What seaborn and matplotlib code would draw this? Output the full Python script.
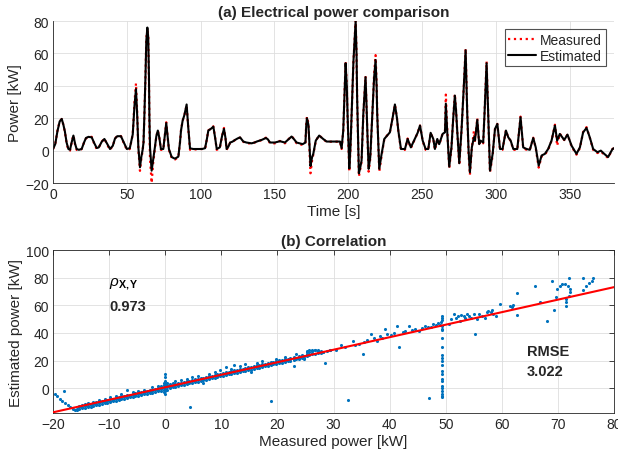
import matplotlib
matplotlib.use("Agg")
import matplotlib.pyplot as plt
import seaborn as sns

# ---------------- (a) time series ----------------
time_s = [0, 1.5, 3, 4.5, 5.9, 7, 8, 9.2, 10.4, 11.5, 12.6, 13.8, 15, 16, 17.5, 19.4, 21, 22.3, 24, 26.2,
          28, 29.6, 31, 33, 34.8, 36.5, 38.6, 40.5, 42, 43.5, 46, 48, 50, 52, 54, 55.2, 56.2, 57, 57.8, 58.9,
          59.8, 60.7, 61.3, 61.9, 62.6, 63.2, 63.9, 64.5, 65, 65.3, 65.7, 66.8, 67.8, 69, 70, 71, 72, 73.1, 74.7, 75.8,
          76.7, 77.5, 78.5, 80.4, 82.6, 84.9, 86, 86.7, 87.8, 89, 90.5, 91.6, 92.8, 95, 98, 101, 103, 104.2, 105.2, 107,
          108.6, 109.8, 110.9, 113, 114.5, 115.8, 116.8, 117.6, 118.8, 120, 121.5, 123.3, 125, 126.7, 128.9, 131, 134.5, 136.5, 138, 141.3,
          144.2, 145.5, 147, 150.3, 153.7, 157.1, 159.5, 161.6, 163.3, 165, 169.1, 171, 171.5, 172, 173, 173.6, 174.4, 175.5, 176.3, 178,
          180.3, 183, 185.3, 189.9, 194.4, 195.5, 196.6, 197.5, 198.2, 199, 199.5, 200.7, 201.5, 202.3, 203.5, 205, 205.6, 206, 207.2, 208,
          209, 210.2, 211.7, 212.3, 212.9, 213.8, 214.9, 216.3, 217.5, 218.5, 219.2, 219.6, 221, 222.6, 224.4, 226, 228.2, 230, 231.6, 233,
          233.9, 235.7, 238.4, 240.2, 242.4, 245.1, 247, 248.6, 250.4, 252.4, 254.2, 255.8, 257.6, 258.7, 260.3, 261.6, 263.9, 265.5, 266.1, 267,
          268.4, 269.9, 271, 272.2, 273, 273.8, 275.2, 276.7, 277.9, 279.5, 280.6, 281.5, 282.4, 283.7, 285.1, 285.8, 287.4, 288.7, 289.6, 291.4,
          292.3, 293.7, 294.8, 296, 297.8, 299.4, 301, 302.8, 304.5, 306.8, 308.4, 310, 311.8, 314.5, 316.7, 318.5, 320.8, 323, 325.3, 327,
          329, 331, 333.2, 335.4, 337.7, 340, 341.5, 343.3, 346.3, 348.5, 351.3, 354.6, 356.9, 359.1, 361.4, 363.6, 365.9, 368.8, 371.1, 373.4,
          376, 379, 381]

estimated_kw = [1, 4, 12, 18, 19.6, 16, 12, 5, 1, 0.5, 5, 9.3, 4, 1, 0.5, 1, 5, 7.8, 8.5, 8.2,
                4.5, 1.6, 2, 5.5, 7.2, 4.5, 1, 3, 7.5, 8.9, 8.9, 5, 1, 1.5, 10, 28, 38, 22, 2, -10.3,
                -4, 0.5, 5, 22, 45, 68, 76, 70, 45, 20, 2, -12.4, -6, 2, 9, 12.4, 8, 1, 1, 10,
                17, 10, 1, -4, -5, -3.7, 5, 12.4, 18.5, 22, 28.5, 14.4, 1.4, 1, 1, 1, 1.5, 7, 12.4, 13.5,
                14.8, 8, 1, 2, 9, 13.4, 8, 1, 2.5, 5, 5.5, 6.6, 7.5, 8.2, 5.6, 5, 4.5, 5, 5.6, 6.6,
                7.8, 7, 5, 5, 5.8, 5, 7, 8.7, 7, 5, 4, 5, 15, 20, 16, 6, -9.5, -4, -2, 6.2,
                9.3, 7.2, 5.6, 5.6, 5.6, 1.5, 12.4, 35, 54, 40, 22.7, -11, 2, 22.7, 55, 80, 60, 33, -14, -11,
                -6.2, 22.7, 45.4, 30, 12.4, -11.3, -4, 22.7, 45, 56, 40, 22.7, -11.3, -2, 7.2, 8.9, 11.3, 20, 28.5, 20,
                12.4, 1, 1, 7.2, 2, 7.2, 11, 15.5, 6.2, 1, 1, 11, 7.2, 1, 7.2, 4, 10.3, 11.3, 29, 12.4,
                -9.9, 2, 18.6, 34, 25, 12.4, -7.8, 12.4, 33, 62, 22.7, 0, -13.4, 2, 8.2, 6.2, 19, 4, 6.2, 5,
                22.7, 54, 22.7, -12.4, -2, 13.4, 16.5, 1, 1, 12.4, 8.2, 6.2, 1, 1, 20.6, 2, 1, 0.5, 7.8, 2,
                -9.3, -3, -2, 1, 6.2, 15.5, 6.2, 10.3, 6.6, 9.9, 3, -2, 2, 11.3, 14, 8.2, 1, -1, 0, -2,
                -4, 1, 2]

measured_kw = [1, 4, 12.5, 18, 19.5, 16, 11.5, 4.5, 0.5, 0, 5, 9.5, 3.5, 0.5, 0, 1, 5, 7.5, 8.5, 8.5,
               4, 1, 2, 5.5, 7.5, 4, 0.5, 3, 7.5, 9, 9, 4.5, 0.5, 1, 10, 30, 41.5, 24, 1, -12.5,
               -5, 0, 5, 22, 45, 69, 75.5, 70, 42, 15, -5, -20, -8, 1.5, 9, 12.5, 8, 0.5, 0.5, 10,
               17.5, 10, 0.5, -4.5, -5.5, -4, 5, 12.5, 18.5, 22, 28, 14, 0.5, 0.5, 1, 1, 1, 7, 12.5, 13.5,
               15, 8, 0.5, 1.5, 9, 14, 8, 0.5, 2.5, 5, 5.5, 6.5, 7.5, 8, 5.5, 4.5, 4.5, 5, 5.5, 6.5,
               8, 7, 4.5, 4.5, 6, 4.5, 7, 9, 7, 4.5, 3.5, 5, 16, 21, 17, 4, -14, -6, -2.5, 6,
               9.5, 7, 5.5, 5.5, 5.5, 1, 12, 36, 55, 40, 22, -13, 1, 22, 55, 80.5, 60, 32, -16, -12,
               -7, 22, 46, 30, 12, -13, -5, 22, 47, 59, 42, 24, -13, -3, 7, 9, 11.5, 20, 28.5, 20,
               12, 0.5, 0.5, 7.5, 1.5, 7, 11, 15.5, 6, 0.5, 0.5, 11, 7, 0.5, 7, 3.5, 10.5, 12, 34.6, 14,
               -11, 1.5, 19, 35, 25, 12, -9, 12, 33, 63, 23, -2, -15, 1.5, 12, 6, 20, 3, 6, 4.5,
               23, 55, 22, -13.5, -3, 13.5, 16.5, 0.5, 0.5, 12.5, 8, 6, 0.5, 0.5, 21, 1.5, 0.5, 0.5, 8, 1.5,
               -10.5, -3.5, -2.5, 0.5, 6, 16, 3, 10.5, 6.5, 10, 2.5, -2.5, 1.5, 11.5, 14.5, 8, 0.5, -1.5, -0.5, -2.5,
               -4.5, 1, 2]

# ---------------- (b) correlation ----------------
corr_measured = [
    -19.7, -19.3, -18.8, -18.4, -18.1, -17.9, -17.4, -17.0, -16.5, -16.1,
    -15.8, -15.8, -15.3, -15.3, -15.3, -14.8, -14.8, -14.8, -14.3, -14.3, -14.3, -14.3,
    -13.8, -13.8, -13.8, -13.8, -13.3, -13.3, -13.3, -12.8, -12.8, -12.8, -12.8, -12.3, -12.3, -12.3,
    -11.8, -11.8, -11.8, -11.8, -11.3, -11.3, -11.3, -10.8, -10.8, -10.8, -10.8, -10.3, -10.3, -10.3,
    -9.8, -9.8, -9.8, -9.8, -9.3, -9.3, -9.3, -8.8, -8.8, -8.8, -8.8, -8.3, -8.3, -8.3,
    -7.8, -7.8, -7.8, -7.8, -7.3, -7.3, -7.3, -6.8, -6.8, -6.8, -6.8, -6.3, -6.3, -6.3,
    -5.8, -5.8, -5.8, -5.8, -5.3, -5.3, -5.3, -4.8, -4.8, -4.8, -4.8, -4.3, -4.3, -4.3,
    -3.8, -3.8, -3.8, -3.8, -3.3, -3.3, -3.3, -2.8, -2.8, -2.8, -2.3, -2.3, -2.3, -2.3,
    -1.8, -1.8, -1.8, -1.3, -1.3, -1.3, -1.3, -0.8, -0.8, -0.8, -0.8,
    -0.3, -0.3, -0.3, -0.3, -0.3, -0.3, 0, 0, 0, 0, 0, 0, 0, 0, 0,
    0.3, 0.3, 0.3, 0.3, 0.3, 0.8, 0.8, 0.8, 0.8, 1.3, 1.3, 1.3, 1.3, 1.8, 1.8, 1.8, 1.8,
    2.3, 2.3, 2.3, 2.8, 2.8, 2.8, 2.8, 3.3, 3.3, 3.3, 3.8, 3.8, 3.8, 3.8, 4.3, 4.3, 4.3, 4.4,
    4.8, 4.8, 4.8, 4.8, 5.3, 5.3, 5.3, 5.8, 5.8, 5.8, 5.8, 6.3, 6.3, 6.3, 6.8, 6.8, 6.8, 6.8,
    7.3, 7.3, 7.3, 7.8, 7.8, 7.8, 7.8, 8.3, 8.3, 8.3, 8.8, 8.8, 8.8, 8.8, 9.3, 9.3, 9.3,
    9.8, 9.8, 9.8, 9.8, 10.3, 10.3, 10.3, 10.8, 10.8, 10.8, 10.8, 11.3, 11.3, 11.3,
    11.8, 11.8, 11.8, 11.8, 12.3, 12.3, 12.3, 12.3, 12.8, 12.8, 12.8, 13.3, 13.3, 13.3, 13.3,
    13.8, 13.8, 13.8, 14.3, 14.3, 14.3, 14.3, 14.8, 14.8, 14.8, 15.3, 15.3, 15.3, 15.3,
    15.8, 15.8, 15.8, 16.3, 16.3, 16.3, 16.3, 16.8, 16.8, 16.8, 17.3, 17.3, 17.3, 17.3,
    17.8, 17.8, 17.8, 18.3, 18.3, 18.3, 18.8, 18.8, 18.8, 18.8, 19.3, 19.3, 19.3,
    19.8, 19.8, 19.8, 19.8, 20.3, 20.3, 20.3, 20.8, 20.8, 20.8, 21.3, 21.3, 21.3, 21.3,
    21.8, 21.8, 21.8, 22.3, 22.3, 22.3, 22.9, 22.9, 22.9, 22.9, 23.3, 23.3, 23.3,
    23.8, 23.8, 23.8, 24.3, 24.3, 24.3, 24.8, 24.8, 24.8, 25.2, 25.2, 25.2, 25.2,
    25.7, 25.7, 25.7, 26.2, 26.2, 26.2, 26.2, 26.7, 26.7, 26.7, 27.2, 27.2, 27.2,
    27.7, 27.7, 27.7, 28.2, 28.2, 28.4, 28.8, 29.3, 29.3,
    30.5, 31.3, 32.0, 32.6, 33.4, 33.8, 34.5, 35.2, 35.5, 36.0, 36.7, 37.2, 37.8, 38.3, 38.7, 39.1,
    39.5, 40.2, 40.8, 41.4, 41.7, 42.3, 42.8, 43.5, 44.0, 44.5, 45.3, 45.8, 46.3, 46.8, 47.0, 47.3,
    47.7, 48.2, 48.6, 49.0, 49.2,
    49.4, 49.4, 49.4, 49.4, 49.4, 49.4, 49.4, 49.4, 49.4, 49.4, 49.4, 49.4, 49.4, 49.4, 49.4,
    49.4, 49.4, 49.4, 49.4, 49.4, 49.4, 49.4,
    50.5, 51.0, 51.4, 51.8, 52.2, 52.5, 52.8, 53.2, 53.5, 53.8, 54.2, 54.5, 55.0, 55.3, 55.6, 56.0,
    56.5, 57.0, 57.3, 57.6, 58.0, 58.2, 58.5, 59.0, 59.7, 61.5, 61.8, 62.0, 62.7, 62.7, 66.0, 66.9,
    68.0, 69.0, 69.3, 69.6, 69.8, 70.3, 70.7, 71.3, 71.8, 72.1, 72.2, 71.9, 71.5, 71.5, 71.4, 71.9,
    74.5, 74.5, 75.0, 75.5, 76.0, 76.3]

corr_estimated = [
    -4.0, -5.5, -7.5, -9.0, -2.0, -10.5, -12.0, -13.5, -14.8, -15.5,
    -15.5, -14.8, -15.2, -14.0, -13.2, -14.6, -13.5, -12.5, -14.3, -13.0, -12.2, -11.4,
    -13.8, -12.8, -11.8, -10.8, -13.3, -12.3, -11.2, -12.9, -11.8, -10.7, -9.8, -12.4, -11.2, -10.3,
    -12.0, -10.8, -9.7, -8.5, -11.4, -10.3, -9.2, -11.0, -9.8, -8.8, -7.8, -10.6, -9.4, -8.3,
    -10.1, -9.0, -7.9, -6.5, -9.5, -8.5, -7.5, -9.0, -8.0, -7.0, -5.8, -8.6, -7.6, -6.5,
    -8.1, -7.1, -6.0, -4.5, -7.6, -6.6, -5.6, -7.2, -6.2, -5.2, -1.2, -6.7, -5.7, -4.7,
    -6.3, -5.2, -4.3, -3.0, -5.8, -4.8, -3.8, -5.4, -4.3, -3.4, -2.0, -4.9, -3.9, -2.9,
    -4.5, -3.4, -2.5, -1.0, -4.0, -3.0, -2.0, -3.6, -2.5, -1.6, -3.2, -2.0, -1.1, 0.5,
    -2.7, -1.6, -0.6, -2.2, -1.1, -0.1, 1.5, -1.8, -0.6, 0.4, 1.8,
    -3.0, -1.3, 0.0, 1.0, 2.5, 4.0, -4.0, -2.0, -0.5, 0.8, 2.0, 3.5, 5.5, 8.0, 10.5,
    -1.0, 0.6, 1.5, 2.5, 4.0, 0.0, 1.2, 2.2, 3.2, 0.6, 1.6, 2.6, 3.8, 1.0, 2.1, 3.1, 5.0,
    1.5, 2.6, 3.6, 2.0, 3.0, 4.0, 6.0, 2.5, 3.5, 4.5, 2.9, 3.9, 4.9, 7.0, 3.4, 4.4, 5.4, -13.3,
    3.8, 4.9, 5.9, 8.0, 4.3, 5.3, 6.3, 4.8, 5.8, 6.8, 9.0, 5.2, 6.3, 7.3, 5.7, 6.7, 7.7, 3.5,
    6.2, 7.2, 8.2, 6.6, 7.7, 8.7, 10.5, 7.1, 8.1, 9.1, 7.5, 8.6, 9.6, 11.5, 8.0, 9.0, 10.0,
    8.5, 9.5, 10.5, 13.0, 9.0, 10.0, 11.0, 9.4, 10.4, 11.4, 15.0, 9.9, 10.9, 11.9,
    10.3, 11.4, 12.4, 14.0, 10.8, 11.8, 12.8, 17.0, 11.2, 12.3, 13.3, 11.7, 12.7, 13.7, 16.0,
    12.2, 13.2, 14.2, 12.6, 13.6, 14.6, 17.5, 13.0, 14.1, 15.1, 13.5, 14.5, 15.5, 12.0,
    14.0, 15.0, 16.0, 14.5, 15.5, 16.5, 18.0, 14.9, 15.9, 16.9, 15.3, 16.4, 17.4, 19.5,
    15.8, 16.8, 17.8, 16.2, 17.3, 18.3, 16.7, 17.7, 18.7, -9.6, 17.2, 18.2, 19.2,
    17.6, 18.6, 19.6, 21.0, 18.1, 19.1, 20.1, 18.5, 19.5, 20.5, 19.0, 20.0, 21.0, 22.5,
    19.4, 20.4, 21.4, 19.9, 20.9, 21.9, 15.7, 20.5, 21.5, 22.5, 20.8, 21.8, 24.5,
    21.2, 22.2, 23.2, 21.7, 22.7, 23.7, 22.2, 23.2, 21.0, 25.0, 26.5, 27.2, 23.5,
    26.5, 27.5, 24.0, 27.0, 27.8, 24.4, 25.5, 27.3, 27.7, 24.9, 27.0, 27.5, 25.3,
    26.5, 25.8, 27.0, 26.0, 26.3, 18.3, 26.8, 27.3, 28.0,
    28.0, 31.6, 29.5, -8.4, 34.5, 31.0, 32.0, 24.8, 33.5, 35.0, 39.3, 36.0, 34.5, 37.5, 36.0, 42.9,
    39.0, 38.5, 40.0, 45.3, 30.0, 40.5, 41.5, 45.3, 42.0, 43.0, 41.2, 43.5, 45.0, 44.0, -7.2, 44.5,
    46.5, 45.5, 47.0, 46.0, 48.0,
    52.5, 51.0, 49.5, 45.0, 43.0, 42.0, 36.0, 30.0, 24.0, 22.0, 19.5, 17.0, 12.5, 10.0, 6.5,
    5.0, 1.5, 0.0, -2.0, -4.5, -5.5, -6.5,
    46.5, 50.0, 53.7, 51.0, 52.5, 49.0, 53.0, 52.0, 50.5, 53.5, 52.0, 51.0, 54.0, 39.3, 50.0, 53.5,
    52.5, 51.0, 55.0, 56.0, 55.0, 56.5, 54.0, 52.0, 61.0, 59.8, 58.6, 60.5, 68.7, 53.3, 73.7, 62.2,
    48.4, 77.8, 56.6, 65.8, 71.8, 74.2, 75.4, 75.4, 74.2, 71.8, 69.4, 67.0, 64.6, 62.2, 59.8, 79.8,
    79.5, 71.0, 74.0, 76.0, 78.0, 79.5]

fit_x = [-20, 80]
fit_y = [-17.5, 73.2]

rho_value = "0.973"
rmse_value = "3.022"

# ---------------- styling ----------------
sns.set_theme(style="white")
plt.rcParams["font.family"] = ["Liberation Sans", "DejaVu Sans"]
plt.rcParams["mathtext.fontset"] = "custom"
plt.rcParams["mathtext.rm"] = "Liberation Sans"
plt.rcParams["mathtext.it"] = "Liberation Sans:italic"
plt.rcParams["mathtext.bf"] = "Liberation Sans:bold"

AX_COL = "#262626"
GRID_COL = "#dedede"

fig = plt.figure(figsize=(6.18, 4.60), dpi=100)
ax1 = fig.add_axes([0.0858, 0.600, 0.9077, 0.352])
ax2 = fig.add_axes([0.0858, 0.100, 0.9077, 0.354])

# (a)
sns.lineplot(x=time_s, y=measured_kw, ax=ax1, color="red", linestyle=":", linewidth=1.6,
             label="Measured", sort=False, estimator=None)
sns.lineplot(x=time_s, y=estimated_kw, ax=ax1, color="black", linewidth=1.5,
             label="Estimated", sort=False, estimator=None)
ax1.set_xlim(0, 380)
ax1.set_ylim(-20, 80)
ax1.set_xticks(range(0, 351, 50))
ax1.set_yticks(range(-20, 81, 20))
ax1.set_xlabel("Time [s]", fontsize=11, color=AX_COL, labelpad=2)
ax1.set_ylabel("Power [kW]", fontsize=11, color=AX_COL, labelpad=2)
ax1.set_title("(a) Electrical power comparison", fontsize=11, fontweight="bold", pad=4)
for s in ["top", "right"]:
    ax1.spines[s].set_visible(False)
leg = ax1.legend(loc="upper right", fontsize=10, frameon=True, fancybox=False,
                 handlelength=2.0, borderpad=0.25, labelspacing=0.15, handletextpad=0.3,
                 borderaxespad=0.6)
leg.get_frame().set_edgecolor(AX_COL)
leg.get_frame().set_linewidth(0.8)

# (b)
sns.scatterplot(x=corr_measured, y=corr_estimated, ax=ax2, color="#0072BD", s=5,
                linewidth=0, marker="o", zorder=3)
sns.lineplot(x=fit_x, y=fit_y, ax=ax2, color="red", linewidth=1.5, zorder=4)
ax2.set_xlim(-20, 80)
ax2.set_ylim(-18, 100)
ax2.set_xticks(range(-20, 81, 10))
ax2.set_yticks(range(0, 101, 20))
ax2.set_xlabel("Measured power [kW]", fontsize=11, color=AX_COL, labelpad=2)
ax2.set_ylabel("Estimated power [kW]", fontsize=11, color=AX_COL, labelpad=2)
ax2.set_title("(b) Correlation", fontsize=11, fontweight="bold", pad=4)
ax2.text(-10, 76, r"$\rho_{\mathbf{X,Y}}$", fontsize=11, va="center", ha="left", color="black")
ax2.text(-10, 59.5, rho_value, fontsize=10.5, fontweight="bold", va="center", ha="left")
ax2.text(64.5, 27, "RMSE", fontsize=10.5, fontweight="bold", va="center", ha="left")
ax2.text(64.5, 12.5, rmse_value, fontsize=10.5, fontweight="bold", va="center", ha="left")
ax2.tick_params(top=True, right=True)

for ax in (ax1, ax2):
    ax.grid(True, color=GRID_COL, linewidth=0.6)
    ax.set_axisbelow(True)
    ax.tick_params(direction="in", length=3.5, width=0.6, color=AX_COL, labelsize=10,
                   labelcolor=AX_COL, pad=3)
    for sp in ax.spines.values():
        sp.set_color(AX_COL)
        sp.set_linewidth(0.6)

fig.savefig("out.png", dpi=100)
